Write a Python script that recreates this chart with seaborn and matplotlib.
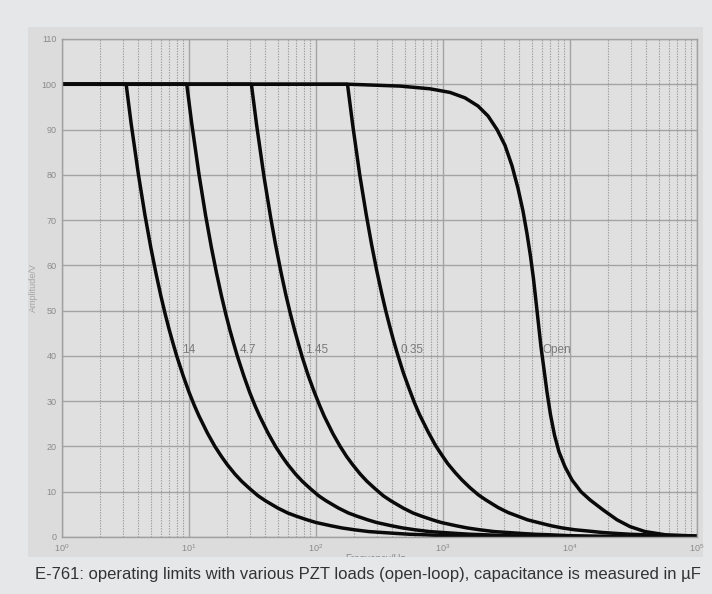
import matplotlib
matplotlib.use("Agg")
import matplotlib.pyplot as plt
from matplotlib.patches import Rectangle
from matplotlib.ticker import LogLocator, NullFormatter, FixedLocator
import numpy as np
import pandas as pd
import seaborn as sns

# Operating limits of the E-761 amplifier, amplitude (V) against frequency (Hz)
freq_14 = [1, 3.2, 3.5, 4, 4.5, 5, 5.5, 6, 6.5, 7, 7.5, 8, 9, 10, 11, 12, 14, 16, 18, 20,
           23, 26, 30, 35, 40, 50, 60, 70, 85, 100, 130, 160, 200, 260, 330, 420, 550,
           700, 1000, 1500, 3000, 10000, 100000]
amp_14 = [100, 100, 91.4, 80, 71.1, 64, 58.2, 53.3, 49.2, 45.7, 42.7, 40, 35.6, 32, 29.1,
          26.7, 22.9, 20, 17.8, 16, 13.9, 12.3, 10.7, 9.1, 8, 6.4, 5.3, 4.6, 3.8, 3.2, 2.5,
          2.0, 1.6, 1.2, 1.0, 0.8, 0.6, 0.5, 0.3, 0.2, 0.1, 0.05, 0]

freq_4_7 = [1, 9.6, 10.5, 12, 13.5, 15, 16.5, 18, 19.5, 21, 22.5, 24, 27, 30, 33, 36, 42,
            48, 54, 60, 69, 78, 90, 105, 120, 150, 180, 210, 255, 300, 390, 480, 600, 780,
            990, 1260, 1650, 2100, 3000, 4500, 9000, 30000, 100000]
amp_4_7 = [100, 100, 91.4, 80, 71.1, 64, 58.2, 53.3, 49.2, 45.7, 42.7, 40, 35.6, 32, 29.1,
           26.7, 22.9, 20, 17.8, 16, 13.9, 12.3, 10.7, 9.1, 8, 6.4, 5.3, 4.6, 3.8, 3.2, 2.5,
           2.0, 1.6, 1.2, 1.0, 0.8, 0.6, 0.5, 0.3, 0.2, 0.1, 0.05, 0]

freq_1_45 = [1, 31, 34, 39, 44, 48, 53, 58, 63, 68, 73, 78, 87, 97, 107, 116, 136, 155, 174,
             194, 223, 252, 291, 339, 388, 485, 581, 678, 824, 969, 1260, 1550, 1940, 2520,
             3200, 4070, 5330, 6780, 9690, 14500, 29000, 100000]
amp_1_45 = [100, 100, 91.2, 79.5, 70.5, 64.6, 58.5, 53.4, 49.2, 45.6, 42.5, 39.7, 35.6, 32,
            29, 26.7, 22.8, 20, 17.8, 16, 13.9, 12.3, 10.7, 9.1, 8, 6.4, 5.3, 4.6, 3.8, 3.2,
            2.5, 2.0, 1.6, 1.2, 1.0, 0.8, 0.6, 0.5, 0.3, 0.2, 0.1, 0]

freq_0_35 = [1, 177, 195, 221, 248, 274, 301, 328, 354, 381, 407, 434, 487, 542, 597, 652,
             761, 870, 979, 1090, 1250, 1410, 1630, 1900, 2170, 2720, 3260, 3800, 4620,
             5430, 7060, 8690, 10900, 14100, 17900, 22800, 29900, 38000, 54300, 100000]
amp_0_35 = [100, 100, 90.8, 80, 71.4, 64.6, 58.8, 54, 50, 46.5, 43.5, 40.8, 36.3, 32.7, 29.6,
            27.1, 23.3, 20.3, 18.1, 16.2, 14.2, 12.6, 10.9, 9.3, 8.2, 6.5, 5.4, 4.7, 3.8, 3.3,
            2.5, 2.0, 1.6, 1.3, 1.0, 0.8, 0.6, 0.5, 0.3, 0.2]

freq_open = [1, 185, 459, 790, 1136, 1490, 1886, 2262, 2663, 3078, 3494, 3896, 4265, 4586,
             4887, 5160, 5400, 5649, 5910, 6242, 6591, 7023, 7551, 8194, 9134, 10370, 12210,
             14370, 18190, 23450, 29680, 38960, 55980, 100000]
amp_open = [100, 100, 99.6, 99.0, 98.2, 97.0, 95.2, 93.0, 90, 86.5, 82, 77, 72, 67, 62, 57,
            52, 47, 42, 37, 32, 27, 22.5, 18.8, 15.5, 12.6, 10, 8.2, 6, 3.8, 2.3, 1.2, 0.5,
            0.2]

load_names = ["14", "4.7", "1.45", "0.35", "Open"]
label_freq = [8.8, 25.2, 82, 459, 6125]
label_amp = [41.3, 41.3, 41.3, 41.3, 41.3]

y_ticks = list(range(0, 111, 10))
caption = "E-761: operating limits with various PZT loads (open-loop), capacitance is measured in \u00b5F"

series = [(freq_14, amp_14), (freq_4_7, amp_4_7), (freq_1_45, amp_1_45),
          (freq_0_35, amp_0_35), (freq_open, amp_open)]
frames = []
for name, (f, a) in zip(load_names, series):
    frames.append(pd.DataFrame({"Frequency": f, "Amplitude": a, "Load": name}))
data = pd.concat(frames, ignore_index=True)

sns.set_theme(style="white")
plt.rcParams["font.family"] = ["Liberation Sans", "DejaVu Sans"]

OUTER = "#e6e7e9"
PANEL = "#dcdcdc"
PLOT_BG = "#e0e0e0"

fig = plt.figure(figsize=(7.12, 5.94), dpi=100, facecolor=OUTER)
fig.patches.append(Rectangle((28 / 712, 37 / 594), 675 / 712, 530 / 594,
                             transform=fig.transFigure, facecolor=PANEL,
                             edgecolor="none", zorder=-10))

ax = fig.add_axes([62 / 712, 57 / 594, 635 / 712, 498 / 594])
ax.set_facecolor(PLOT_BG)

ax.set_xscale("log")
ax.set_xlim(1, 1e5)
ax.set_ylim(0, 110)

# grid: solid decades and amplitude steps, dotted intermediate frequencies
ax.xaxis.set_major_locator(LogLocator(base=10, numticks=10))
ax.xaxis.set_minor_locator(LogLocator(base=10, subs=np.arange(2, 10), numticks=50))
ax.xaxis.set_minor_formatter(NullFormatter())
ax.yaxis.set_major_locator(FixedLocator(y_ticks))
ax.grid(which="major", axis="both", color="#a3a3a3", lw=1.0, ls="-", zorder=0)
ax.grid(which="minor", axis="x", color="#9c9c9c", lw=0.8, ls=(0, (1.2, 1.2)), zorder=0)
ax.set_axisbelow(True)

sns.lineplot(data=data, x="Frequency", y="Amplitude", hue="Load",
             palette=["#0a0a0a"] * 5, estimator=None, sort=False,
             linewidth=2.5, legend=False, ax=ax)

for name, fx, fy in zip(load_names, label_freq, label_amp):
    ax.text(fx, fy, name, ha="left", va="center", fontsize=8.5, color="#7a7a7a")

for side in ["left", "bottom", "top", "right"]:
    ax.spines[side].set_color("#a0a0a0")
    ax.spines[side].set_linewidth(1.0)

ax.tick_params(axis="both", which="both", length=0, colors="#8a8a8a", labelsize=6.5)
ax.tick_params(axis="x", pad=4)
ax.tick_params(axis="y", pad=4)
ax.set_xlabel("")
ax.set_ylabel("")

fig.text(33 / 712, 1 - 288 / 594, "Amplitude/V", rotation=90, ha="center", va="center",
         fontsize=6.5, color="#a5a5a5")
fig.text(375 / 712, 1 - 559 / 594, "Frequency/Hz", ha="center", va="center",
         fontsize=7, color="#8a8a8a", zorder=1)
# outer band below the panel hides the lower half of the axis title
fig.patches.append(Rectangle((0, 0), 1, 37 / 594, transform=fig.transFigure,
                             facecolor=OUTER, edgecolor="none", zorder=5))
fig.text(35 / 712, 1 - 575 / 594, caption, ha="left", va="center",
         fontsize=12.0, color="#333333", zorder=6)

fig.savefig("out.png", dpi=100, facecolor=OUTER)
